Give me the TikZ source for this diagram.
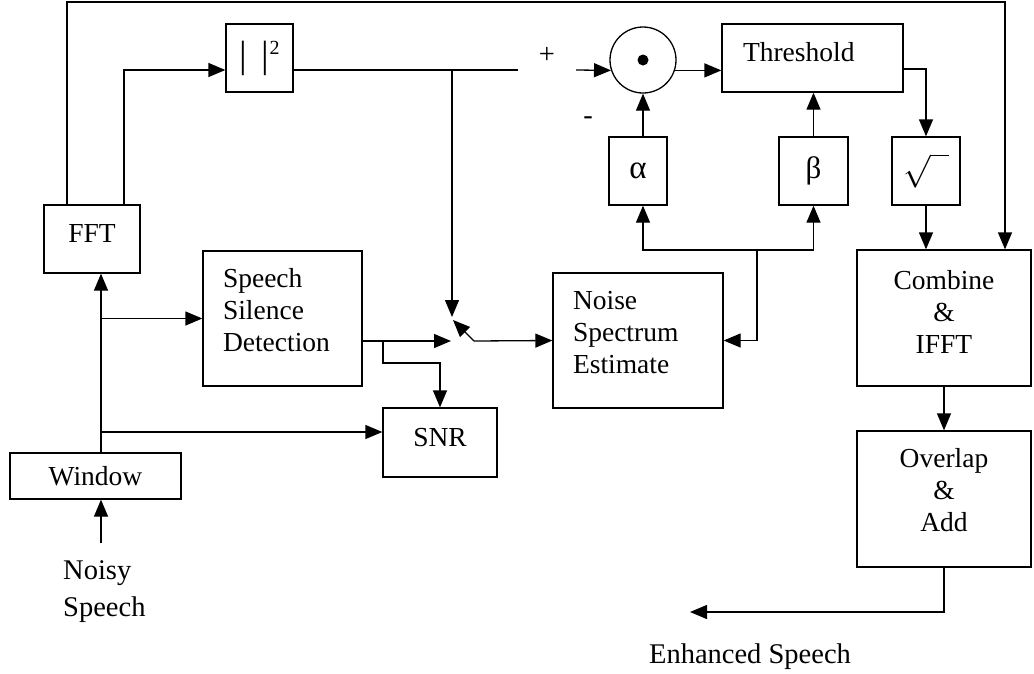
\RequirePackage{fix-cm}
\documentclass[tikz,border=0pt]{standalone}
\usepackage{fontspec}
\usepackage{amsmath}
\setmainfont{Liberation Serif}
\usetikzlibrary{arrows.meta}
\newcommand{\lowpad}[1]{\rule[-#1]{0pt}{#1}}
\tikzset{
  blk/.style={draw, line width=1.3pt, inner sep=0pt, font=\fontsize{27.5}{32}\selectfont},
  lbl/.style={inner sep=0pt, font=\fontsize{28.5}{32}\selectfont},
  wire/.style={line width=1.3pt},
  arr/.style={wire, -{Triangle[length=17pt,width=14pt]}}
}
\begin{document}
\begin{tikzpicture}[x=1pt,y=-1pt]
\useasboundingbox (0,0) rectangle (1034,673);
% blocks:
\node[blk, minimum width=96pt, minimum height=68pt] (fft) at (92,239) {FFT\lowpad{12pt}};
\node[blk, minimum width=171pt, minimum height=46pt] (win) at (95.5,476) {Window};
\node[blk, minimum width=67pt, minimum height=68pt] (sq) at (259.5,58) {{\fontsize{38}{38}\selectfont|\hspace{15pt}|}\raisebox{13pt}{\fontsize{20}{20}\selectfont 2}};
\node[circle, draw, line width=1.3pt, minimum size=66pt, inner sep=0pt] (mult) at (643,60) {};
\fill (mult.center) circle (5.5pt);
\node[blk, minimum width=181pt, minimum height=68pt, text width=139pt, align=left] (thr) at (812.5,58) {Threshold\lowpad{12pt}};
\node[blk, minimum width=58pt, minimum height=68pt, font=\fontsize{33}{33}\selectfont] (alpha) at (638,171) {α};
\node[blk, minimum width=69pt, minimum height=68pt, font=\fontsize{31}{33}\selectfont] (beta) at (813.5,171) {β};
\node[blk, minimum width=68pt, minimum height=68pt, font=\fontsize{33}{33}\selectfont] (sqr) at (926,171) {$\sqrt{\phantom{x}}$};
\node[blk, minimum width=159pt, minimum height=135pt, text width=119pt, align=left] (ssd) at (282.5,318.5) {Speech\\Silence\\Detection\lowpad{17pt}};
\node[blk, minimum width=170pt, minimum height=135pt, text width=130pt, align=left] (nse) at (638,340.5) {Noise\\Spectrum\\Estimate\lowpad{16pt}};
\node[blk, minimum width=114pt, minimum height=69pt] (snr) at (440,442.5) {SNR\lowpad{10pt}};
\node[blk, minimum width=174pt, minimum height=136pt, align=center] (comb) at (944,318) {Combine\\\&\\IFFT\lowpad{12pt}};
\node[blk, minimum width=174pt, minimum height=136pt, align=center] (ovl) at (944,499) {Overlap\\\&\\Add\lowpad{18pt}};
% texts:
\node[lbl] (plus) at (547,55) {+};
\node[lbl] (minus) at (588,121) {-};
\node[lbl, align=left, anchor=north west] (noisy) at (63,560) {Noisy\\[5pt]Speech};
\node[lbl, anchor=base] (enh) at (750,663) {Enhanced Speech};
% points:
\coordinate (tr) at (1005,2);
\coordinate (tap) at (452,70);
\coordinate (gapl) at (518,70);
\coordinate (gapr) at (576,70);
\coordinate (swtop) at (452,317);
\coordinate (swend) at (451,341);
\coordinate (swpiv) at (474,341);
\coordinate (swtip) at (453,320);
\coordinate (br) at (383,341);
\coordinate (spkin) at (101,543);
\coordinate (snrin) at ([yshift=10.5pt]snr.west);
\coordinate (fork) at (757,250);
\coordinate (outend) at (690,612);
% connectors:
\draw[arr] ([xshift=-25pt]fft.north) |- (tr) -- (tr |- comb.north);
\draw[arr] ([xshift=32pt]fft.north) |- ([yshift=-12pt]sq.west);
\draw[wire] ([yshift=-12pt]sq.east) -- (gapl);
\draw[arr] (gapr) -- (mult.198);
\draw[arr] (mult.-18) -- (mult.-18 -| thr.west);
\draw[arr] (tap) -- (swtop);
\draw[arr] ([yshift=-22.5pt]ssd.east) -- (swend);
\draw[arr] (swpiv) -- (swtip);
\draw[arr] (swpiv) -- (nse.west);
\draw[arr] (br) -- ++(0,22) -| (snr.north);
\draw[arr] (spkin) -- (spkin |- win.south);
\draw[arr] (spkin |- win.north) -- (spkin |- fft.south);
\draw[arr] (spkin |- ssd.west) -- (ssd.west);
\draw[arr] (spkin |- snrin) -- (snrin);
\draw[arr] (alpha.north -| mult.south) -- (mult.south);
\draw[arr] (beta.north) -- (beta.north |- thr.south);
\draw[arr] (fork) -| (alpha.south -| mult.south);
\draw[arr] (fork) -| (beta.south);
\draw[arr] (fork) |- (nse.east);
\draw[arr] ([yshift=-11pt]thr.east) -| (sqr.north);
\draw[arr] (sqr.south) -- (sqr.south |- comb.north);
\draw[arr] (comb.south) -- (ovl.north);
\draw[arr] (ovl.south) |- (outend);
\end{tikzpicture}
\end{document}
